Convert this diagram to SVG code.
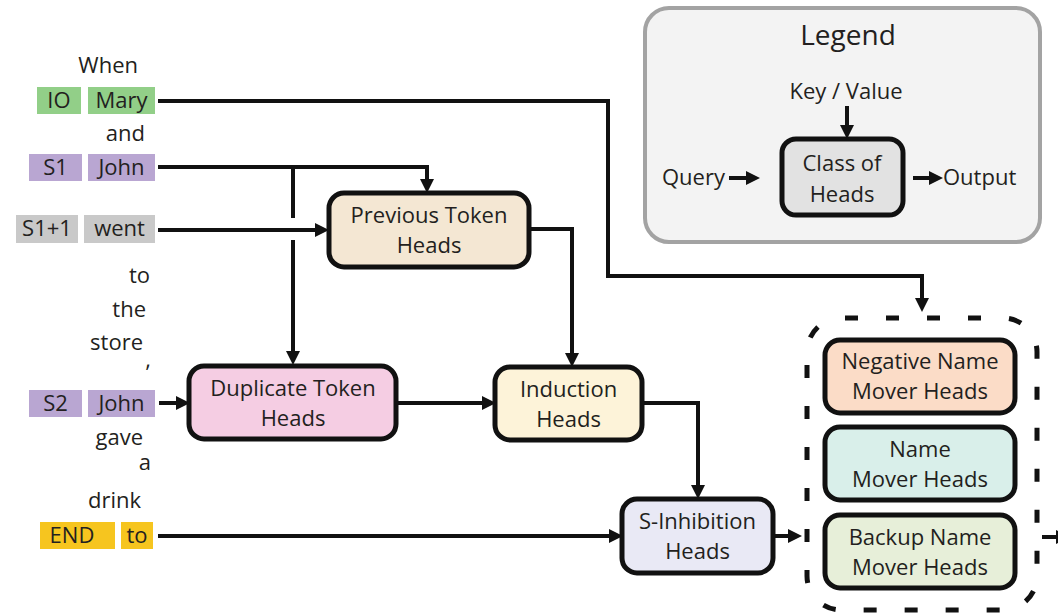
<svg xmlns="http://www.w3.org/2000/svg" width="1058" height="613" viewBox="0 0 1058 613">
  <style>
    text { font-family: "Open Sans", "Noto Sans", "DejaVu Sans", sans-serif; font-size: 22px; fill: #231f20; }
    .mid { text-anchor: middle; }
    .end { text-anchor: end; }
    .node { stroke: #111; stroke-width: 5; }
    .wire { fill: none; stroke: #111; stroke-width: 4; stroke-linejoin: miter; }
    .arrow { marker-end: url(#head); }
    .tok-io { fill: #92cf88; }
    .tok-s { fill: #b9a6d2; }
    .tok-s1 { fill: #c9c9c9; }
    .tok-end { fill: #f6c51f; }
  </style>
  <defs>
    <marker id="head" viewBox="0 0 14 14" markerWidth="14" markerHeight="14" markerUnits="userSpaceOnUse" refX="6" refY="7" orient="auto">
      <path d="M0,0 L14,7 L0,14 z" fill="#111"/>
    </marker>
  </defs>

  <rect width="1058" height="613" fill="#ffffff"/>

  <!-- Legend -->
  <g id="legend">
    <rect x="645" y="8" width="395" height="234" rx="24" fill="#f3f3f3" stroke="#a3a3a3" stroke-width="4"/>
    <text class="mid" x="848" y="45" style="font-size:28px">Legend</text>
    <text class="mid" x="846" y="99">Key / Value</text>
    <rect class="node" x="782" y="139" width="121" height="76" rx="14" fill="#e2e2e2"/>
    <text class="mid" x="842" y="171">Class of</text>
    <text class="mid" x="842" y="202">Heads</text>
    <text x="662" y="185">Query</text>
    <text x="943" y="185">Output</text>
    <path class="wire arrow" d="M847,106 V131"/>
    <path class="wire arrow" d="M729,178 H752"/>
    <path class="wire arrow" d="M913,178 H935"/>
  </g>

  <!-- Prompt tokens -->
  <g id="tokens">
    <text class="end" x="138" y="73">When</text>
    <rect class="tok-io" x="37" y="87" width="44" height="27"/>
    <rect class="tok-io" x="88" y="87" width="67" height="27"/>
    <text class="mid" x="59" y="108">IO</text>
    <text class="mid" x="121.5" y="108">Mary</text>
    <text class="end" x="145" y="141">and</text>
    <rect class="tok-s" x="29" y="154" width="53" height="27"/>
    <rect class="tok-s" x="88" y="154" width="67" height="27"/>
    <text class="mid" x="55.5" y="175">S1</text>
    <text class="mid" x="121.5" y="175">John</text>
    <rect class="tok-s1" x="16" y="215" width="62" height="28"/>
    <rect class="tok-s1" x="84" y="215" width="71" height="28"/>
    <text class="mid" x="47" y="236">S1+1</text>
    <text class="mid" x="119.5" y="236">went</text>
    <text class="end" x="150" y="283">to</text>
    <text class="end" x="146" y="317">the</text>
    <text class="end" x="143" y="350">store</text>
    <text class="end" x="151" y="367">,</text>
    <rect class="tok-s" x="29" y="390" width="53" height="27"/>
    <rect class="tok-s" x="88" y="390" width="67" height="27"/>
    <text class="mid" x="55.5" y="411">S2</text>
    <text class="mid" x="121.5" y="411">John</text>
    <text class="end" x="143" y="445">gave</text>
    <text class="end" x="151" y="470">a</text>
    <text class="end" x="141" y="508">drink</text>
    <rect class="tok-end" x="40" y="522" width="75" height="27"/>
    <rect class="tok-end" x="121" y="522" width="32" height="27"/>
    <text class="mid" x="72" y="543">END</text>
    <text class="mid" x="137" y="543">to</text>
  </g>

  <!-- Connectors -->
  <g id="connectors">
    <!-- IO Mary to the name mover group -->
    <path class="wire arrow" d="M158,101 H608 V276 H922 V304"/>
    <!-- S1 John to previous token heads -->
    <path class="wire arrow" d="M158,167 H427 V185"/>
    <!-- S1 John branch to duplicate token heads, broken where it crosses S1+1 -->
    <path class="wire" d="M293,167 V218"/>
    <path class="wire arrow" d="M293,240 V357"/>
    <!-- S1+1 went to previous token heads -->
    <path class="wire arrow" d="M158,230 H321"/>
    <!-- previous token to induction -->
    <path class="wire arrow" d="M530,229 H572 V359"/>
    <!-- S2 John to duplicate token -->
    <path class="wire arrow" d="M159,403 H182"/>
    <!-- duplicate token to induction -->
    <path class="wire arrow" d="M397,403 H488"/>
    <!-- induction to S-inhibition -->
    <path class="wire arrow" d="M643,403 H698 V491"/>
    <!-- END to S-inhibition -->
    <path class="wire arrow" d="M158,536 H615"/>
    <!-- S-inhibition to the name mover group -->
    <path class="wire arrow" d="M773,536 H794"/>
    <!-- group output -->
    <path class="wire arrow" d="M1042,537 H1062"/>
  </g>

  <!-- Heads -->
  <g id="previous-token">
    <rect class="node" x="329" y="193" width="200" height="74" rx="15" fill="#f4e7d3"/>
    <text class="mid" x="429" y="223">Previous Token</text>
    <text class="mid" x="429" y="253">Heads</text>
  </g>
  <g id="duplicate-token">
    <rect class="node" x="189" y="366" width="207" height="73" rx="15" fill="#f5cde3"/>
    <text class="mid" x="293" y="396">Duplicate Token</text>
    <text class="mid" x="293" y="426">Heads</text>
  </g>
  <g id="induction">
    <rect class="node" x="495" y="367" width="147" height="73" rx="15" fill="#fdf3d9"/>
    <text class="mid" x="568.5" y="397">Induction</text>
    <text class="mid" x="568.5" y="427">Heads</text>
  </g>
  <g id="s-inhibition">
    <rect class="node" x="622" y="499" width="151" height="74" rx="15" fill="#e9e9f5"/>
    <text class="mid" x="697.5" y="529">S-Inhibition</text>
    <text class="mid" x="697.5" y="559">Heads</text>
  </g>

  <!-- Name mover group -->
  <g id="name-movers">
    <rect x="807" y="318" width="230" height="292" rx="34" fill="none" stroke="#111" stroke-width="5" stroke-dasharray="13 28" stroke-dashoffset="-4"/>
    <g id="negative-name-mover">
      <rect class="node" x="825" y="340" width="190" height="73" rx="15" fill="#fbdcc7"/>
      <text class="mid" x="920" y="369">Negative Name</text>
      <text class="mid" x="920" y="399">Mover Heads</text>
    </g>
    <g id="name-mover">
      <rect class="node" x="825" y="427" width="190" height="73" rx="15" fill="#d9efea"/>
      <text class="mid" x="920" y="457">Name</text>
      <text class="mid" x="920" y="487">Mover Heads</text>
    </g>
    <g id="backup-name-mover">
      <rect class="node" x="825" y="515" width="190" height="73" rx="15" fill="#e7efd9"/>
      <text class="mid" x="920" y="545">Backup Name</text>
      <text class="mid" x="920" y="575">Mover Heads</text>
    </g>
  </g>
</svg>
